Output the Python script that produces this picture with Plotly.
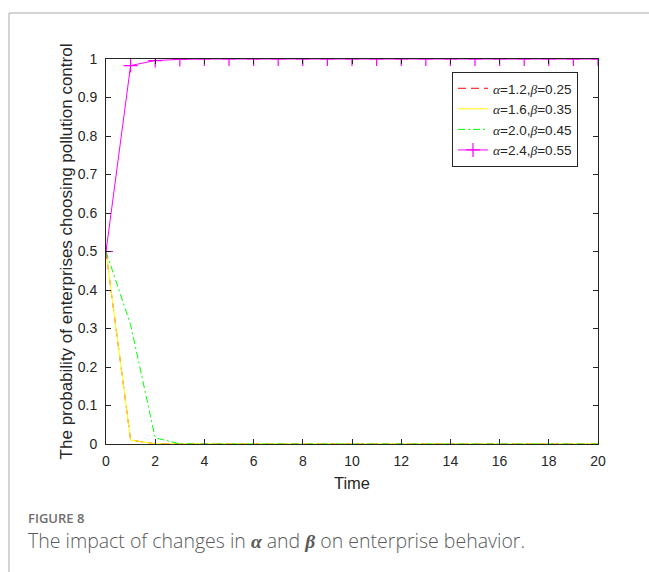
import plotly.graph_objects as go

time = list(range(0, 21))
s1 = [0.5, 0.01, 0.0005] + [0.0] * 18          # alpha=1.2, beta=0.25
s2 = [0.5, 0.01, 0.0004] + [0.0] * 18          # alpha=1.6, beta=0.35
s3 = [0.5, 0.31, 0.016, 0.0005] + [0.0] * 17   # alpha=2.0, beta=0.45
s4 = [0.5, 0.983, 0.996, 0.999] + [1.0] * 17   # alpha=2.4, beta=0.55

def greek(ch):
    return f"<span style='font-family:Liberation Serif'><i>{ch}</i></span>"

names = [
    f"{greek('α')}=1.2,{greek('β')}=0.25",
    f"{greek('α')}=1.6,{greek('β')}=0.35",
    f"{greek('α')}=2.0,{greek('β')}=0.45",
    f"{greek('α')}=2.4,{greek('β')}=0.55",
]
xticks = list(range(0, 21, 2))
yticks = [i / 10 for i in range(11)]
yticklabels = ["0"] + [f"{v:.1f}" for v in yticks[1:-1]] + ["1"]

fig = go.Figure()
fig.add_trace(go.Scatter(x=time, y=s1, mode="lines", name=names[0],
                         line=dict(color="#ff0000", width=1, dash="8px,5px")))
fig.add_trace(go.Scatter(x=time, y=s2, mode="lines", name=names[1],
                         line=dict(color="#ffff00", width=1)))
fig.add_trace(go.Scatter(x=time, y=s3, mode="lines", name=names[2],
                         line=dict(color="#00ff00", width=1, dash="7px,3px,2px,3px")))
fig.add_trace(go.Scatter(x=time, y=s4, mode="lines+markers", name=names[3],
                         line=dict(color="#ff00ff", width=1),
                         marker=dict(symbol="cross-thin", size=10,
                                     line=dict(color="#ff00ff", width=1.2))))

L, R = 106, 598
T, B = 59, 444
W, H = 649, 572
def px(x):
    return (x - L) / (R - L)
def py(y):
    return (B - y) / (B - T)

FONT = "Liberation Sans, Arial"
axis_common = dict(showline=True, linecolor="#262626", linewidth=1, mirror="ticks",
                   ticks="inside", ticklen=5, tickcolor="#262626", showgrid=False,
                   zeroline=False, tickfont=dict(family=FONT, size=14, color="#262626"))

fig.update_layout(
    width=W, height=H,
    margin=dict(l=L, r=W - R, t=T, b=H - B),
    plot_bgcolor="white", paper_bgcolor="white",
    showlegend=True,
    legend=dict(x=px(452), y=py(72), xanchor="left", yanchor="top",
                bgcolor="white", bordercolor="#262626", borderwidth=1,
                font=dict(family=FONT, size=13.5, color="#262626"),
                itemwidth=30, tracegroupgap=0),
    xaxis=dict(range=[0, 20], tickvals=xticks, ticktext=[str(v) for v in xticks],
               ticklabelstandoff=4,
               title=dict(text="Time", font=dict(family=FONT, size=16.5, color="#262626"),
                          standoff=9),
               **axis_common),
    yaxis=dict(range=[0, 1], tickvals=yticks, ticktext=yticklabels,
               ticklabelstandoff=5,
               title=dict(text="The probability of enterprises choosing pollution control",
                          font=dict(family=FONT, size=17, color="#262626"),
                          standoff=0),
               **axis_common),
    shapes=[
        dict(type="line", xref="paper", yref="paper", x0=px(9), y0=py(13), x1=px(660), y1=py(13),
             line=dict(color="#aaaaaa", width=1)),
        dict(type="line", xref="paper", yref="paper", x0=px(9), y0=py(13), x1=px(9), y1=py(580),
             line=dict(color="#aaaaaa", width=1)),
    ],
    annotations=[
        dict(xref="paper", yref="paper", x=px(26), y=py(518), xanchor="left", yanchor="middle",
             text="FIGURE 8", showarrow=False,
             font=dict(family="Open Sans, Noto Sans", size=13, color="#6e6e6e", weight=600)),
        dict(xref="paper", yref="paper", x=px(26), y=py(540), xanchor="left", yanchor="middle",
             text="The impact of changes in <span style='font-family:Liberation Serif'><b><i>α</i></b></span> and "
                  "<span style='font-family:Liberation Serif'><b><i>β</i></b></span> on enterprise behavior.",
             showarrow=False,
             font=dict(family="Open Sans, Noto Sans", size=19.5, color="#5a5a5a", weight=300)),
    ],
)

fig.write_html("out.html", config={"displayModeBar": False},
               post_script="document.body.style.margin='0';")
